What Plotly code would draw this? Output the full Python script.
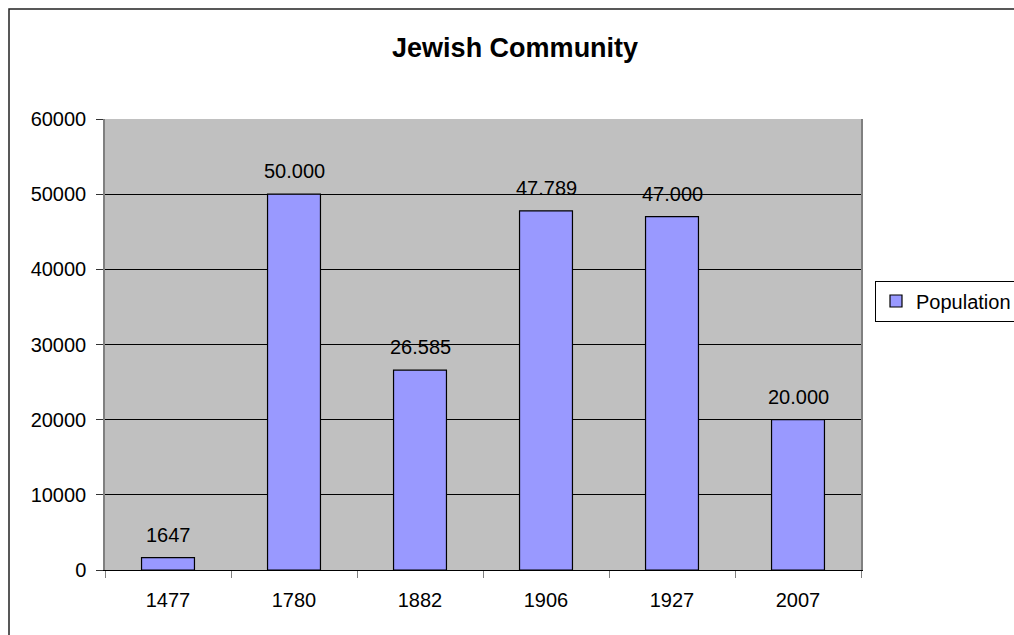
import plotly.graph_objects as go

# Jewish community population by year
years = ["1477", "1780", "1882", "1906", "1927", "2007"]
population = [1647, 50000, 26585, 47789, 47000, 20000]
y_ticks = [0, 10000, 20000, 30000, 40000, 50000, 60000]

W, H = 1014, 635
ML, MR, MT, MB = 105, 153, 119, 65
PW, PH = W - ML - MR, H - MT - MB


def px_x(p):
    return (p - ML) / PW


def px_y(p):
    return (H - MB - p) / PH


def fmt(v):
    # thousands grouped with a dot for five-digit figures
    return f"{v:,}".replace(",", ".") if v >= 10000 else str(v)


FONT = "Arial, Liberation Sans, sans-serif"

fig = go.Figure(
    go.Bar(
        x=years,
        y=population,
        name="Population",
        marker=dict(color="#9999FF", line=dict(color="black", width=1.2)),
    )
)

# value labels above each bar (category index as x position)
for i, v in enumerate(population):
    fig.add_annotation(
        x=i, y=v, text=fmt(v), showarrow=False,
        yanchor="bottom", yshift=10,
        font=dict(family=FONT, size=20, color="black"),
    )

# outer chart frame
fig.add_shape(
    type="rect", xref="paper", yref="paper",
    x0=px_x(9), x1=px_x(1030), y0=px_y(650), y1=px_y(9),
    line=dict(color="#222222", width=1.5), layer="below",
)

fig.update_layout(
    width=W, height=H,
    margin=dict(l=ML, r=MR, t=MT, b=MB, pad=0, autoexpand=False),
    paper_bgcolor="white",
    plot_bgcolor="#C0C0C0",
    font=dict(family=FONT, size=20, color="black"),
    bargap=0.58,
    title=dict(
        text="<b>Jewish Community</b>",
        x=0.508, xref="container", xanchor="center",
        y=1 - 48 / H, yref="container", yanchor="middle",
        font=dict(family=FONT, size=27, color="black"),
    ),
    showlegend=True,
    legend=dict(
        x=px_x(875), xanchor="left",
        y=px_y(301), yanchor="middle",
        bordercolor="black", borderwidth=1,
        bgcolor="white",
        font=dict(family=FONT, size=20, color="black"),
    ),
    xaxis=dict(
        type="category",
        range=[-0.5, len(years) - 0.5],
        showline=True, linecolor="black", linewidth=1.2,
        ticks="outside", tickson="boundaries",
        ticklen=7, tickcolor="#808080", tickwidth=1.2,
        ticklabelstandoff=12,
        showgrid=False,
        tickfont=dict(family=FONT, size=20),
    ),
    yaxis=dict(
        range=[0, 60000],
        tickvals=y_ticks,
        ticktext=[str(t) for t in y_ticks],
        showline=True, linecolor="#808080", linewidth=1.5, mirror=True,
        ticks="outside", ticklen=7, tickcolor="#333333", tickwidth=1.2,
        ticklabelstandoff=6,
        showgrid=True, gridcolor="black", gridwidth=1,
        zeroline=False,
        tickfont=dict(family=FONT, size=20),
    ),
)

fig.write_html("out.html")
